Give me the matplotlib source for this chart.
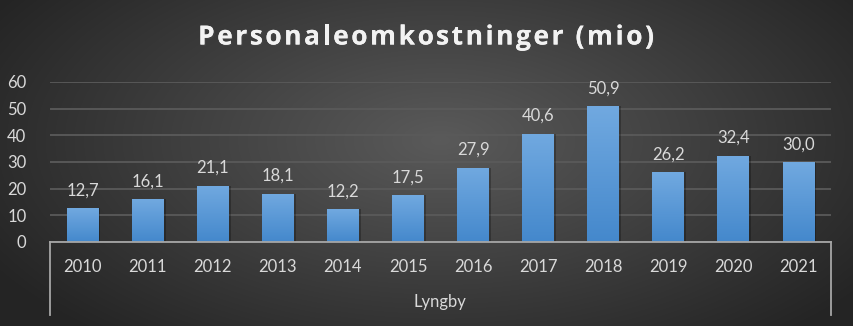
import numpy as np
import matplotlib
matplotlib.use("Agg")
import matplotlib.pyplot as plt
import matplotlib.patheffects as pe

years = ["2010", "2011", "2012", "2013", "2014", "2015",
         "2016", "2017", "2018", "2019", "2020", "2021"]
values = [12.7, 16.1, 21.1, 18.1, 12.2, 17.5, 27.9, 40.6, 50.9, 26.2, 32.4, 30.0]
group_label = "Lyngby"
title = "Personaleomkostninger (mio)"

txt = "#d9d9d9"
fig = plt.figure(figsize=(8.54, 3.26), dpi=100)

# radial gradient background
bg = fig.add_axes([0, 0, 1, 1], zorder=-10)
yy, xx = np.mgrid[0:326, 0:854]
r = np.sqrt(((xx - 440) / 520.0) ** 2 + ((yy - 140) / 260.0) ** 2)
r = np.clip(r, 0, 1)
c0, c1 = 0x5a / 255, 0x24 / 255
shade = c0 + (c1 - c0) * r
bg.imshow(np.dstack([shade] * 3), aspect="auto", extent=[0, 1, 0, 1])
bg.set_axis_off()

ax = fig.add_axes([50 / 854, 84 / 326, 781 / 854, 160 / 326])
ax.set_facecolor("none")
x = np.arange(len(years))

grad = np.linspace(1, 0, 256).reshape(-1, 1)
top = np.array([0x71, 0xa9, 0xe0]) / 255
bot = np.array([0x44, 0x88, 0xcc]) / 255
grad_img = bot + (top - bot) * grad[..., None]

bars = ax.bar(x, values, width=0.49, color="#5b9bd5", zorder=3)
for b, v in zip(bars, values):
    x0 = b.get_x()
    w = b.get_width()
    sh = plt.Rectangle((x0 + 0.03, 0), w, v, color="black", alpha=0.25, zorder=2, lw=0)
    ax.add_patch(sh)
    im = ax.imshow(grad_img, extent=[x0, x0 + w, 0, v], aspect="auto", zorder=4)
    im.set_clip_path(b)
    ax.annotate(f"{v:.1f}".replace(".", ","), (b.get_x() + w / 2, v),
                xytext=(0, 7), textcoords="offset points", ha="center", va="bottom",
                color=txt, fontsize=12, family="Lato")
ax.set_xlim(-0.5, len(years) - 0.5)
ax.set_ylim(0, 60)

ax.set_yticks(range(0, 61, 10))
ax.grid(axis="y", color="#5a5a5a", lw=1.3, zorder=0)
ax.set_xticks(x)
ax.set_xticklabels(years)
ax.tick_params(axis="both", length=0, colors=txt, labelsize=12)
ax.tick_params(axis="y", pad=17)
ax.tick_params(axis="x", pad=12)
for lab in ax.get_xticklabels() + ax.get_yticklabels():
    lab.set_family("Lato")
for s in ["top", "right", "left"]:
    ax.spines[s].set_visible(False)
ax.spines["bottom"].set_color("#a6a6a6")
ax.spines["bottom"].set_linewidth(1.3)
ax.spines["bottom"].set_zorder(5)

# multi-level category frame
for xe in (50, 831):
    fig.add_artist(plt.Line2D([xe / 854, xe / 854], [84 / 326, 11 / 326],
                              color="#a6a6a6", lw=1.3))
fig.text(440 / 854, 1 - 302 / 326, group_label, ha="center", va="center",
         color=txt, fontsize=12, family="Lato")

# title with letter spacing, placed char by char
tkw = dict(color="#f2f2f2", fontsize=19, fontweight="bold", family="Open Sans",
           va="center", ha="left",
           path_effects=[pe.withSimplePatchShadow(offset=(1, -1), alpha=0.5), pe.Normal()])
rend = fig.canvas.get_renderer()


def text_w(s):
    t = fig.text(0, 0, s + "|", **tkw)
    w = t.get_window_extent(rend).width
    t.remove()
    return w


bar_w = text_w("")
spacing = 2.6
offsets = [text_w(title[:i]) - bar_w + i * spacing for i in range(len(title))]
total = text_w(title) - bar_w + (len(title) - 1) * spacing
x_start = 426 - total / 2
for ch, off in zip(title, offsets):
    if ch != " ":
        fig.text((x_start + off) / 854, 1 - 37 / 326, ch, **tkw)

fig.savefig("out.png", dpi=100)
